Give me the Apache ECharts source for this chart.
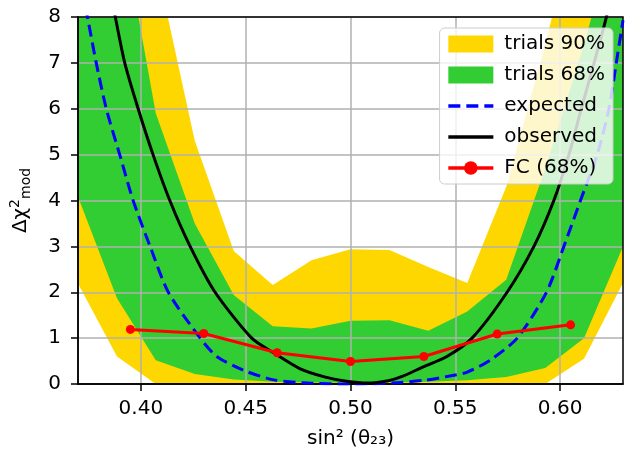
<!DOCTYPE html>
<html>
<head>
<meta charset="utf-8">
<script src="https://cdn.jsdelivr.net/npm/echarts@6/dist/echarts.min.js"></script>
<style>
body { margin: 0; background: #fff; }
#main { width: 626px; height: 459px; }
</style>
</head>
<body>
<div id="main"></div>
<script>
// sampled points of the trial bands (sin^2 theta23)
var bandX = [0.37, 0.3886, 0.4071, 0.4257, 0.4443, 0.4629, 0.4814, 0.5, 0.5186, 0.5371, 0.5557, 0.5743, 0.5929, 0.6114, 0.63];
var band90Low = [2.19, 0.6, 0, 0, 0, 0, 0, 0, 0, 0, 0, 0, 0, 0.55, 2.2];
var band90High = [14, 12, 9.2, 5.3, 2.9, 2.16, 2.7, 2.94, 2.92, 2.55, 2.2, 4.3, 7.4, 10.8, 13];
var band68Low = [4.08, 1.87, 0.52, 0.22, 0.1, 0.05, 0.03, 0.03, 0.03, 0.05, 0.08, 0.15, 0.35, 1.0, 3.0];
var band68High = [16, 10.6, 5.9, 3.5, 1.94, 1.26, 1.21, 1.38, 1.39, 1.16, 1.58, 2.27, 4.7, 7.4, 10.5];

// expected (blue dashed)
var expX = [0.372, 0.3748, 0.3787, 0.3835, 0.3899, 0.3963, 0.4044, 0.4131, 0.4283, 0.4362, 0.4489, 0.4633, 0.48, 0.5, 0.52, 0.535, 0.548, 0.5557, 0.5667, 0.5795, 0.5935, 0.6018, 0.6097, 0.6177, 0.6233, 0.6268, 0.63];
var expY = [8.6, 7.93, 7, 6, 5, 4, 3, 2, 1, 0.6, 0.3, 0.09, 0.02, 0.0, 0.02, 0.08, 0.18, 0.26, 0.52, 1.0, 2.0, 3.0, 4.0, 5.0, 6.0, 7.0, 7.93];

// observed (black)
var obsX = [0.3845, 0.3878, 0.3923, 0.3987, 0.4058, 0.4138, 0.4235, 0.4354, 0.4529, 0.4633, 0.476, 0.488, 0.498, 0.508, 0.518, 0.525, 0.535, 0.546, 0.558, 0.5747, 0.5875, 0.597, 0.6042, 0.6101, 0.6162, 0.6217, 0.625];
var obsY = [8.8, 8, 7, 6, 5, 4, 3, 2, 1, 0.68, 0.33, 0.15, 0.06, 0.02, 0.07, 0.17, 0.38, 0.6, 1.0, 2.0, 3.0, 4.0, 5.0, 6.0, 7.0, 7.93, 8.6];

// Feldman-Cousins 68%
var fcX = [0.395, 0.43, 0.465, 0.5, 0.535, 0.57, 0.605];
var fcY = [1.19, 1.10, 0.68, 0.49, 0.60, 1.09, 1.29];

var xTicks = [0.40, 0.45, 0.50, 0.55, 0.60];
var yMax = 8;

function pairs(xs, ys) {
	return xs.map(function(x, i) { return [x, ys[i]]; });
}

// clip a polygon (data space) to y <= yMax
function clipTop(poly) {
	var out = [];
	for (var i = 0; i < poly.length; i++) {
		var a = poly[i], b = poly[(i + 1) % poly.length];
		var ain = a[1] <= yMax, bin = b[1] <= yMax;
		if (ain) out.push(a);
		if (ain !== bin) {
			var t = (yMax - a[1]) / (b[1] - a[1]);
			out.push([a[0] + t * (b[0] - a[0]), yMax]);
		}
	}
	return out;
}

function bandSeries(name, lo, hi, color) {
	return {
		name: name, type: 'custom', z: 1, silent: true,
		itemStyle: { color: color },
		data: bandX.map(function(x, i) { return [x, lo[i], hi[i]]; }),
		encode: { x: 0, y: [1, 2] },
		renderItem: function(params, api) {
			if (params.dataIndex !== 0) return null;
			var poly = [];
			for (var i = 0; i < bandX.length; i++) poly.push([bandX[i], hi[i]]);
			for (var j = bandX.length - 1; j >= 0; j--) poly.push([bandX[j], lo[j]]);
			var pts = clipTop(poly).map(function(p) { return api.coord(p); });
			return { type: 'polygon', shape: { points: pts }, style: { fill: color } };
		}
	};
}

var font = 'DejaVu Sans';
var myChart = echarts.init(document.getElementById('main'));
var option = {
	animation: false,
	grid: {
		left: 78, right: 3, top: 17, bottom: 75,
		show: true, borderColor: '#000', borderWidth: 1.5,
		backgroundColor: 'transparent', z: 4
	},
	legend: {
		orient: 'vertical',
		right: 13, top: 28,
		z: 10,
		padding: [6, 8, 6, 7],
		itemWidth: 45, itemHeight: 17, itemGap: 11,
		backgroundColor: 'rgba(255,255,255,0.8)',
		borderColor: '#cccccc', borderWidth: 1, borderRadius: 5,
		textStyle: { fontFamily: font, fontSize: 20, color: '#000', padding: [0, 0, 0, 6] },
		data: [
			{ name: 'trials 90%', icon: 'rect', itemStyle: { color: '#FFD700' } },
			{ name: 'trials 68%', icon: 'rect', itemStyle: { color: '#32CD32' } },
			{ name: 'expected', itemStyle: { opacity: 0 }, lineStyle: { width: 3.5 } },
			{ name: 'observed', itemStyle: { opacity: 0 }, lineStyle: { width: 3.5 } },
			{ name: 'FC (68%)', lineStyle: { width: 3.5 } }
		]
	},
	xAxis: {
		type: 'value', min: 0.37, max: 0.63, splitNumber: 5, z: 3,
		name: 'sin² (θ₂₃)', nameLocation: 'middle', nameGap: 45,
		nameTextStyle: { fontFamily: font, fontSize: 20, color: '#000' },
		axisLine: { onZero: false, lineStyle: { color: '#000', width: 1.5 } },
		axisTick: { length: 7, customValues: xTicks, lineStyle: { color: '#000', width: 1.5 } },
		axisLabel: {
			customValues: xTicks,
			margin: 15, fontFamily: font, fontSize: 20, color: '#000',
			formatter: function(v) { return v.toFixed(2); }
		},
		splitLine: { lineStyle: { color: '#b0b0b0', width: 1.5 } }
	},
	yAxis: {
		type: 'value', min: 0, max: yMax, interval: 1, z: 3,
		name: '{a|Δχ}{b|2}{c|mod}', nameLocation: 'middle', nameGap: 44, nameRotate: 90,
		nameTextStyle: {
			fontFamily: font, fontSize: 20, color: '#000',
			rich: {
				a: { fontFamily: font, fontSize: 20, color: '#000' },
				b: { fontFamily: font, fontSize: 14, color: '#000', padding: [0, 0, 12, 0] },
				c: { fontFamily: font, fontSize: 14, color: '#000', padding: [10, 0, 0, 0] }
			}
		},
		axisLine: { lineStyle: { color: '#000', width: 1.5 } },
		axisTick: { length: 7, lineStyle: { color: '#000', width: 1.5 } },
		axisLabel: { margin: 17, fontFamily: font, fontSize: 20, color: '#000' },
		splitLine: { lineStyle: { color: '#b0b0b0', width: 1.5 } }
	},
	series: [
		bandSeries('trials 90%', band90Low, band90High, '#FFD700'),
		bandSeries('trials 68%', band68Low, band68High, '#32CD32'),
		{
			name: 'expected', type: 'line', z: 5, symbol: 'none', clip: true,
			smooth: 0.25,
			color: '#0000FF',
			lineStyle: { color: '#0000FF', width: 3, type: [12, 6] },
			data: pairs(expX, expY)
		},
		{
			name: 'observed', type: 'line', z: 6, symbol: 'none', clip: true,
			smooth: 0.25,
			color: '#000000',
			lineStyle: { color: '#000000', width: 3 },
			data: pairs(obsX, obsY)
		},
		{
			name: 'FC (68%)', type: 'line', z: 7, symbol: 'circle', symbolSize: 9, clip: true,
			color: '#FF0000',
			lineStyle: { color: '#FF0000', width: 3 },
			itemStyle: { color: '#FF0000' },
			data: pairs(fcX, fcY)
		}
	]
};
myChart.setOption(option);
</script>
</body>
</html>
